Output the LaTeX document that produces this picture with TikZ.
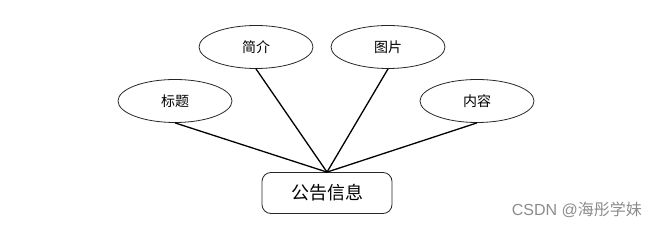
\documentclass[tikz,border=0pt]{standalone}
\usepackage{fontspec}
\setmainfont{Liberation Sans}
\newfontfamily\cjk{Noto Sans CJK SC}
\usetikzlibrary{shapes.geometric}
\begin{document}
\begin{tikzpicture}[x=1pt,y=-1pt,
  attr/.style={ellipse,draw=black!85,line width=0.8pt,minimum width=114pt,minimum height=43pt,inner sep=0pt,font=\cjk\fontsize{14}{16}\selectfont},
  ent/.style={rectangle,rounded corners=9pt,draw=black!85,line width=0.8pt,minimum width=130pt,minimum height=41pt,inner sep=0pt,font=\cjk\fontsize{18}{20}\selectfont},
  link/.style={line width=1.3pt,black}]
\useasboundingbox (0,0) rectangle (658,229);
\node[attr] (biaoti) at (175,101) {标题};
\node[attr] (jianjie) at (256,47) {简介};
\node[attr] (tupian) at (388,47) {图片};
\node[attr] (neirong) at (477,101) {内容};
\node[ent] (gonggao) at (327,193) {公告信息};
\draw[link] (biaoti.south) -- (gonggao.north);
\draw[link] (jianjie.south) -- (gonggao.north);
\draw[link] (tupian.south) -- (gonggao.north);
\draw[link] (neirong.south) -- (gonggao.north);
\node[anchor=east,text=black!45,font=\fontsize{16}{18}\selectfont,inner sep=0pt] (wm) at (642,210) {CSDN @{\cjk 海彤学妹}};
\end{tikzpicture}
\end{document}
